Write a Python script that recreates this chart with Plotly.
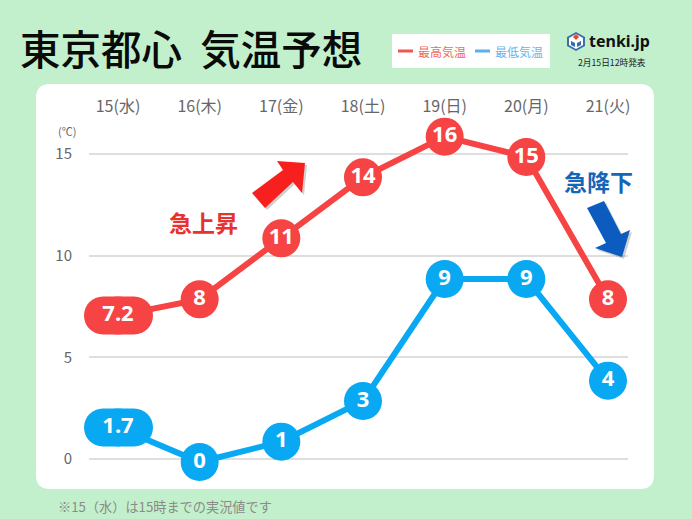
import plotly.graph_objects as go

days = ['15(水)', '16(木)', '17(金)', '18(土)', '19(日)', '20(月)', '21(火)']
high_temp = [7.2, 8, 11, 14, 16, 15, 8]
low_temp = [1.7, 0, 1, 3, 9, 9, 4]
high_labels = ['7.2', '8', '11', '14', '16', '15', '8']
low_labels = ['1.7', '0', '1', '3', '9', '9', '4']
y_ticks = [0, 5, 10, 15]

RED = '#F64343'
BLUE = '#08A9F2'
JP = 'Noto Sans CJK JP'


# picture pixels to paper coordinates, plot area is 89..628 / 120..480
def px(x):
    return (x - 89) / 539


def py(y):
    return (480 - y) / 360


def poly(points):
    return 'M' + ' L'.join(f'{px(x)},{py(y)}' for x, y in points) + ' Z'


def round_rect(x0, y0, x1, y1, r):
    return (f'M{px(x0 + r)},{py(y0)} L{px(x1 - r)},{py(y0)} Q{px(x1)},{py(y0)} {px(x1)},{py(y0 + r)} '
            f'L{px(x1)},{py(y1 - r)} Q{px(x1)},{py(y1)} {px(x1 - r)},{py(y1)} '
            f'L{px(x0 + r)},{py(y1)} Q{px(x0)},{py(y1)} {px(x0)},{py(y1 - r)} '
            f'L{px(x0)},{py(y0 + r)} Q{px(x0)},{py(y0)} {px(x0 + r)},{py(y0)} Z')


def paper_shape(path, color, layer='below', opacity=1):
    return dict(type='path', xref='paper', yref='paper', path=path, fillcolor=color,
                line=dict(width=0), layer=layer, opacity=opacity)


def pill(value, color):
    # first day has a decimal label so its marker is stretched to a pill
    # paper ref, axis shapes get clipped at the plot area and the pill sticks out 5px
    path = ('M-15.5,-19 C-26,-19 -34.5,-10.5 -34.5,0 C-34.5,10.5 -26,19 -15.5,19 L15.5,19 '
            'C26,19 34.5,10.5 34.5,0 C34.5,-10.5 26,-19 15.5,-19 Z')
    return dict(type='path', xref='paper', yref='paper', xsizemode='pixel', ysizemode='pixel',
                xanchor=px(118.5), yanchor=py(462 - 20.33 * value), path=path, fillcolor=color,
                line=dict(width=0), layer='below')


def note(x, y, text, size, color, anchor='left', weight='normal', family=JP):
    return dict(xref='paper', yref='paper', x=px(x), y=py(y), text=text, showarrow=False,
                xanchor=anchor, yanchor='middle', borderpad=0, borderwidth=0,
                font=dict(family=family, size=size, color=color, weight=weight))


red_arrow = [(277, 161), (305, 163), (302, 193), (293, 182), (265, 208), (252, 193), (283, 170)]
blue_arrow = [(587, 208), (604, 201), (621, 234), (630, 230), (622, 257), (595, 248), (606, 243)]

shapes = [
    paper_shape(round_rect(36, 84, 654, 489, 14), 'white'),
    paper_shape(poly([(x + 2, y + 2) for x, y in red_arrow]), '#777777', 'above', 0.35),
    paper_shape(poly(red_arrow), '#F8201E', 'above'),
    paper_shape(poly([(x + 2, y + 2) for x, y in blue_arrow]), '#777777', 'above', 0.35),
    paper_shape(poly(blue_arrow), '#0B5CBE', 'above'),
    # legend box
    paper_shape(poly([(392, 34), (550, 34), (550, 68), (392, 68)]), 'white'),
    paper_shape(poly([(398, 49.5), (413, 49.5), (413, 52.5), (398, 52.5)]), '#F0564C'),
    paper_shape(poly([(475, 49.5), (490, 49.5), (490, 52.5), (475, 52.5)]), '#5CAEEE'),
    # logo cube
    paper_shape(poly([(576, 32), (585, 37), (585, 46), (576, 51), (567, 46), (567, 37)]), '#3E6FA8', 'above'),
    paper_shape(poly([(576, 34), (583, 38), (583, 45), (576, 49), (569, 45), (569, 38)]), 'white', 'above'),
    paper_shape(poly([(576, 34), (579, 37), (576, 40), (573, 37)]), '#E8452F', 'above'),
    paper_shape(poly([(571, 41), (575, 43), (575, 47), (571, 45)]), '#2F6DB0', 'above'),
    paper_shape(poly([(581, 41), (577, 43), (577, 47), (581, 45)]), '#2F6DB0', 'above'),
    pill(high_temp[0], RED),
    pill(low_temp[0], BLUE),
]

annotations = [
    note(20, 47, '東京都心\u00a0\u00a0気温予想', 40.5, '#0A0A0A', weight=500),
    note(418, 51, '最高気温', 12, '#EE6A60'),
    note(495, 51, '最低気温', 12, '#6DB3EE'),
    note(589, 41, 'tenki.jp', 16, '#111111', weight='bold', family='Noto Sans'),
    note(578, 63, '2月15日12時発表', 8.7, '#222222'),
    note(58, 131, '(℃)', 11, '#666666'),
    note(169, 222, '急上昇', 23, '#E8322E', weight='bold'),
    note(564, 181, '急降下', 23, '#1565B8', weight='bold'),
    note(58, 506, '※15（水）は15時までの実況値です', 13.2, '#8A8A8A'),
]

fig = go.Figure()
# empty trace so the grid axis gets drawn
fig.add_trace(go.Scatter(x=[0, 0, 0, 0], y=y_ticks, mode='none', hoverinfo='skip'))
fig.add_trace(go.Scatter(x=list(range(len(days))), y=high_temp, yaxis='y2', mode='lines+markers+text',
                         name='最高気温', text=high_labels, textposition='middle center', cliponaxis=False,
                         line=dict(color=RED, width=6), marker=dict(color=RED, size=38),
                         textfont=dict(family='Noto Sans', size=22, color='white', weight='bold')))
fig.add_trace(go.Scatter(x=list(range(len(days))), y=low_temp, yaxis='y2', mode='lines+markers+text',
                         name='最低気温', text=low_labels, textposition='middle center', cliponaxis=False,
                         line=dict(color=BLUE, width=6), marker=dict(color=BLUE, size=38),
                         textfont=dict(family='Noto Sans', size=22, color='white', weight='bold')))

fig.update_layout(
    width=692, height=519,
    margin=dict(l=89, r=64, t=120, b=39),
    paper_bgcolor='#C3F0CC', plot_bgcolor='rgba(0,0,0,0)',
    showlegend=False, shapes=shapes, annotations=annotations,
    font=dict(family=JP),
    xaxis=dict(side='top', range=[-0.355, 6.245], tickvals=list(range(len(days))), ticktext=days,
               showgrid=False, zeroline=False, showline=False, ticks='', ticklabelstandoff=4,
               tickfont=dict(family=JP, size=16, color='#666666')),
    yaxis=dict(range=[-1.033, 16.675], tickvals=y_ticks, showgrid=True, gridcolor='#DEDEDE', gridwidth=1.5,
               zeroline=False, showline=False, ticks='', ticklabelstandoff=16,
               tickfont=dict(family=JP, size=15, color='#666666')),
    # markers sit about 3px below the grid in the original, hence the offset overlay axis
    yaxis2=dict(range=[-0.885, 16.82], overlaying='y', visible=False),
)

# page margin would shift the whole picture by 8px
fig.write_html("out.html", config=dict(displayModeBar=False), post_script="document.body.style.margin='0';")
